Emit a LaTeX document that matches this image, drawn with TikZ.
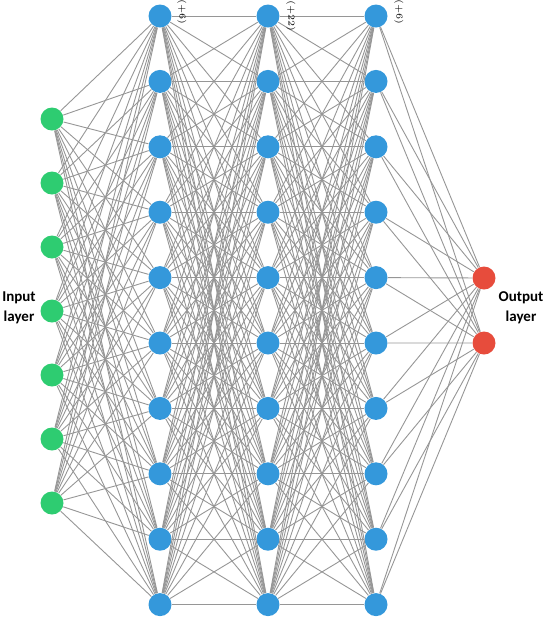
\documentclass[tikz,border=0pt]{standalone}
\usepackage{fontspec}
\setsansfont{Carlito}
\usepackage{xcolor}
\usepackage{tikz}
\usetikzlibrary{positioning}

\definecolor{inGreen}{RGB}{46,204,113}
\definecolor{hidBlue}{RGB}{52,152,219}
\definecolor{outRed}{RGB}{231,76,60}
\definecolor{edgeGray}{RGB}{150,150,150}

\begin{document}
\begin{tikzpicture}[
    x=0.5pt, y=-0.5pt,
    neuron/.style={circle, minimum size=11.5pt, inner sep=0pt},
    inneuron/.style={neuron, fill=inGreen},
    hidneuron/.style={neuron, fill=hidBlue},
    outneuron/.style={neuron, fill=outRed},
    conn/.style={draw=edgeGray, line width=0.45pt},
    layername/.style={font=\sffamily\bfseries\fontsize{7.5}{10}\selectfont, align=center},
    count/.style={font=\fontsize{4.5}{5}\selectfont, rotate=-90}
]
\useasboundingbox (0,0) rectangle (550,623);

% input layer
\foreach \j in {1,...,7}
    \node[inneuron] (i\j) at (52, {119+64*(\j-1)}) {};
% hidden layers
\foreach \L/\x in {a/160, b/268, c/376}
    \foreach \k in {1,...,10}
        \node[hidneuron] (\L\k) at (\x, {16+65.4*(\k-1)}) {};
% output layer
\node[outneuron] (o1) at (484,278) {};
\node[outneuron] (o2) at (484,343) {};

% connections
\foreach \j in {1,...,7}
    \foreach \k in {1,...,10}
        \draw[conn] (i\j) -- (a\k);
\foreach \j in {1,...,10}
    \foreach \k in {1,...,10}
    {
        \draw[conn] (a\j) -- (b\k);
        \draw[conn] (b\j) -- (c\k);
    }
\foreach \j in {1,...,10}
    \foreach \k in {1,2}
        \draw[conn] (c\j) -- (o\k);

% labels
\node[layername] (inlabel) at (19,308) {Input\\layer};
\node[layername] (outlabel) at (521,308) {Output\\layer};
\node[count] (na) at (182,12) {(+6)};
\node[count] (nb) at (291,16) {(+22)};
\node[count] (nc) at (399,12) {(+6)};
\end{tikzpicture}
\end{document}
